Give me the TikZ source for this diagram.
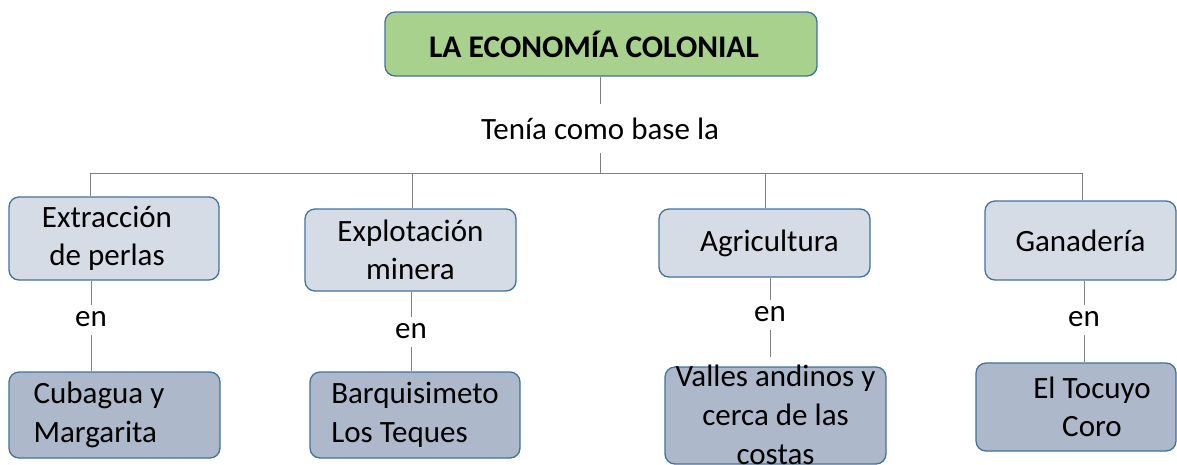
\documentclass[tikz,border=0pt]{standalone}
\usepackage{fontspec}
\setmainfont{Carlito}
\definecolor{bordercol}{HTML}{41719C}
\definecolor{titlefill}{HTML}{A9D18E}
\definecolor{midfill}{HTML}{D6DCE5}
\definecolor{lowfill}{HTML}{ADB9CA}
\definecolor{conncol}{HTML}{7F7F7F}
\tikzset{
  basebox/.style={draw=bordercol, line width=1.3pt, rounded corners=10pt, inner sep=0pt,
    font=\fontsize{31}{38.5}\selectfont, align=center},
  titlebox/.style={basebox, fill=titlefill, font=\fontsize{31.5}{38.5}\selectfont\bfseries},
  midbox/.style={basebox, fill=midfill},
  lowbox/.style={basebox, fill=lowfill},
  lab/.style={font=\fontsize{31}{38.5}\selectfont, inner xsep=2pt, inner ysep=6pt, text depth=3pt},
  conn/.style={draw=conncol, line width=1pt}
}
\begin{document}
\begin{tikzpicture}[x=1pt, y=-1pt]
\useasboundingbox (0,0) rectangle (1177,464);
\clip (0,0) rectangle (1177,464);
% top
\node[titlebox, minimum width=432pt, minimum height=64pt] (title) at (601,44) {\hspace*{-14pt}LA ECONOMÍA COLONIAL};
\node[font=\fontsize{31}{38.5}\selectfont, inner xsep=0pt, inner ysep=13pt] (tenia) at (600,128.5) {Tenía como base la};
\coordinate (bus) at (600,173);
% level 2
\node[midbox, minimum width=210pt, minimum height=83pt] (box1) at (114,238.5) {\hspace*{-14pt}Extracción\\\hspace*{-14pt}de perlas};
\node[midbox, minimum width=211pt, minimum height=82pt] (box2) at (410.5,250) {Explotación\\minera};
\node[midbox, minimum width=211pt, minimum height=68pt] (box3) at (764.5,243) {\hspace*{10pt}Agricultura};
\node[midbox, minimum width=191pt, minimum height=79pt] (box4) at (1080.5,240.5) {Ganadería};
% bottom
\node[lowbox, minimum width=211pt, minimum height=86pt, align=left] (b1) at (114.5,415) {Cubagua y\hspace*{31pt}\\Margarita};
\node[lowbox, minimum width=210pt, minimum height=86pt, align=left] (b2) at (415,415) {Barquisimeto\\Los Teques};
\node[lowbox, minimum width=221pt, minimum height=95pt, text height=97pt, text depth=-2pt, font=\fontsize{31}{39}\selectfont] (b3) at (775.5,415.5) {Valles andinos y\\cerca de las\\costas};
\node[lowbox, minimum width=200pt, minimum height=88pt] (b4) at (1076,407) {\hspace*{32pt}El Tocuyo\\\hspace*{32pt}Coro};
% en labels
\node[lab, anchor=base] (en1) at (91,326) {en};
\node[lab, anchor=base] (en2) at (411,338) {en};
\node[lab, anchor=base] (en3) at (770,321) {en};
\node[lab, anchor=base] (en4) at (1084,326) {en};
\coordinate (e3) at (770,357);
% drop points on bus
\coordinate (d1) at (90,173);
\coordinate (d2) at (412,173);
\coordinate (d3) at (765,173);
\coordinate (d4) at (1082,173);
% connectors
\draw[conn] (title.south -| tenia) -- (tenia.north);
\draw[conn] (tenia.south) -- (bus);
\draw[conn] (d1) -- (d4);
\draw[conn] (d1) -- (d1 |- box1.north);
\draw[conn] (d2) -- (d2 |- box2.north);
\draw[conn] (d3) -- (d3 |- box3.north);
\draw[conn] (d4) -- (d4 |- box4.north);
\draw[conn] (en1.north |- box1.south) -- (en1.north);
\draw[conn] (en1.south) -- (en1.south |- b1.north);
\draw[conn] (en2.north |- box2.south) -- (en2.north);
\draw[conn] (en2.south) -- (en2.south |- b2.north);
\draw[conn] (en3.north |- box3.south) -- (en3.north);
\draw[conn] (en3.south) -- (e3);
\draw[conn] (en4.north |- box4.south) -- (en4.north);
\draw[conn] (en4.south) -- (en4.south |- b4.north);
\end{tikzpicture}
\end{document}
